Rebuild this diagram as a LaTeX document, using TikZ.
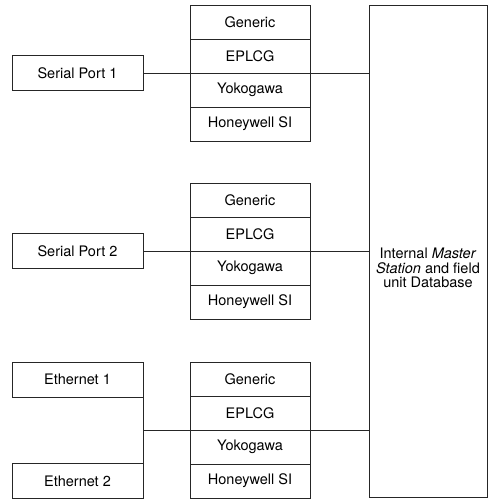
\documentclass[tikz,border=0pt]{standalone}
\usepackage{fontspec}
\setmainfont{TeX Gyre Heros}
\tikzset{
  port/.style={draw=black!85,line width=0.9pt,minimum width=131pt,minimum height=35pt,inner sep=0pt,outer sep=0pt,font=\fontsize{14.5}{14.5}\selectfont},
  proto/.style={draw=black!85,line width=0.9pt,minimum width=120pt,minimum height=34pt,inner sep=0pt,outer sep=0pt,font=\fontsize{14.5}{14.5}\selectfont},
  link/.style={draw=black!85,line width=0.9pt}
}
\begin{document}
\begin{tikzpicture}[x=1pt,y=-1pt]
		\useasboundingbox (0,0) rectangle (488,499);
		% ports
		\node[port] (sp1) at (77.5,73) {Serial Port 1};
		\node[port] (sp2) at (77.5,251) {Serial Port 2};
		\node[port] (eth1) at (77.5,379.5) {Ethernet 1};
		\node[port] (eth2) at (77.5,481) {Ethernet 2};
		% protocol stacks
		\node[proto] (gen1) at (250,22) {Generic};
		\node[proto] (epl1) at (250,56) {EPLCG};
		\node[proto] (yok1) at (250,90) {Yokogawa};
		\node[proto] (hon1) at (250,124) {Honeywell SI};
		\node[proto] (gen2) at (250,200) {Generic};
		\node[proto] (epl2) at (250,234) {EPLCG};
		\node[proto] (yok2) at (250,268) {Yokogawa};
		\node[proto] (hon2) at (250,302) {Honeywell SI};
		\node[proto] (gen3) at (250,379) {Generic};
		\node[proto] (epl3) at (250,413) {EPLCG};
		\node[proto] (yok3) at (250,447) {Yokogawa};
		\node[proto] (hon3) at (250,481) {Honeywell SI};
		% database
		\node[draw=black!85,line width=0.9pt,minimum width=118pt,minimum height=492pt,inner sep=0pt,outer sep=0pt] (db) at (428,251) {};
		\node[align=center,font=\fontsize{14.5}{14.5}\selectfont] (dbtext) at (428,268) {Internal \textit{Master}\\\textit{Station} and field\\unit Database};
		% links
		\draw[link] (sp1.east) -- (epl1.south west);
		\draw[link] (epl1.south east) -- (epl1.south east -| db.west);
		\draw[link] (sp2.east) -- (epl2.south west);
		\draw[link] (epl2.south east) -- (epl2.south east -| db.west);
		\draw[link] (eth1.south east) -- (eth2.north east);
		\draw[link] (eth1.south east |- epl3.south west) -- (epl3.south west);
		\draw[link] (epl3.south east) -- (epl3.south east -| db.west);
\end{tikzpicture}
\end{document}
